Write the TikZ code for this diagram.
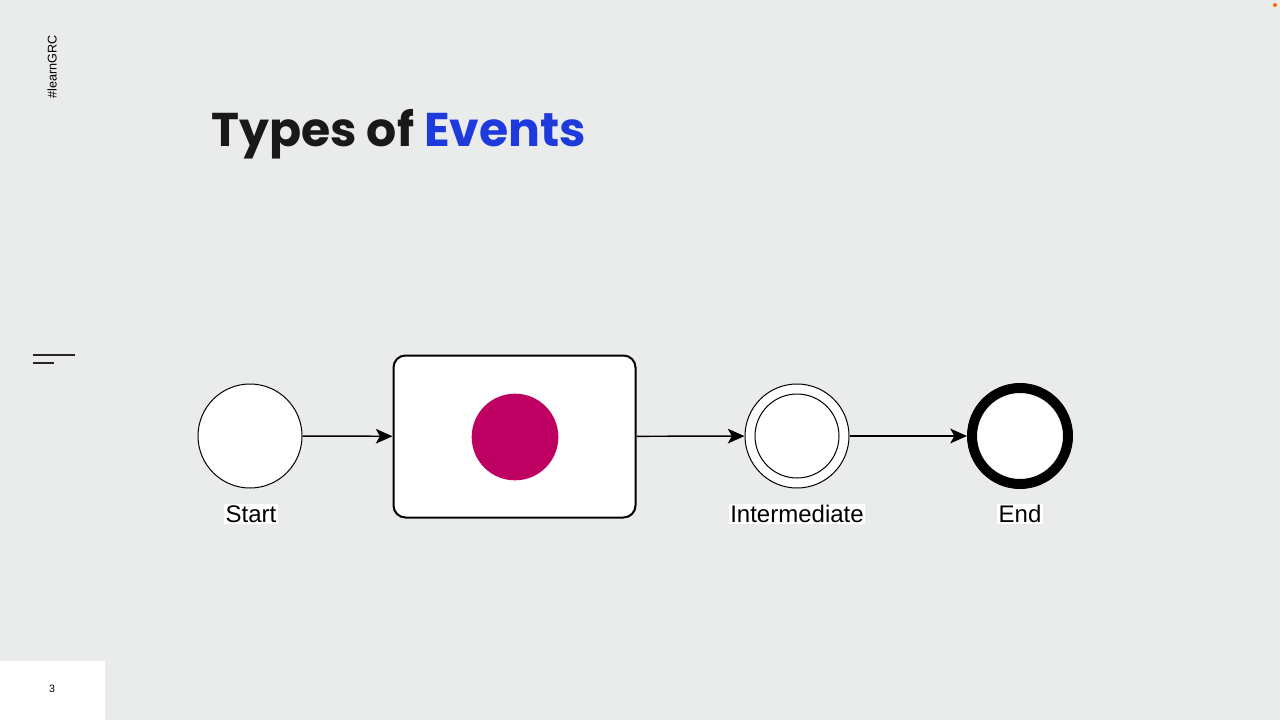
\documentclass[tikz,border=0pt]{standalone}
\usepackage{fontspec}
\setmainfont{Liberation Sans}
\newfontfamily\titlefont{Poppins}
\usetikzlibrary{arrows.meta}
\definecolor{bg}{RGB}{233,236,235}
\definecolor{magentaev}{RGB}{190,0,98}
\definecolor{titleblue}{RGB}{30,58,220}
\definecolor{titleblack}{RGB}{25,25,25}
\tikzset{
  evcircle/.style={circle,draw=black,fill=white,line width=0.75pt,minimum size=78pt,inner sep=0pt},
  flow/.style={-{Stealth[length=12.5pt,width=11pt,inset=3pt]},line width=1.1pt,black},
  lbl/.style={fill=white,inner sep=1pt,font=\fontsize{18}{20}\selectfont},
}
\begin{document}
\begin{tikzpicture}[x=0.75pt,y=-0.75pt]
\fill[bg] (0,0) rectangle (1280,720);
\useasboundingbox (0,0) rectangle (1280,720);
% side tag
\node[rotate=90,font=\fontsize{9.5}{10}\selectfont,inner sep=0pt] (tag) at (52,67) {\#learnGRC};
% left lines
\coordinate (l1a) at (33,355); \coordinate (l1b) at (75,355);
\coordinate (l2a) at (33,363); \coordinate (l2b) at (54,363);
\draw[line width=1.2pt,black!85] (l1a) -- (l1b);
\draw[line width=1.2pt,black!85] (l2a) -- (l2b);
% page number box
\fill[white] (0,661) rectangle (105,720);
\node[font=\fontsize{8}{9}\selectfont] (pg) at (52,689) {3};
% orange dot
\fill[orange!80!red] (1275,5) circle (2);
% title
\node[anchor=base west,inner sep=0pt,font=\titlefont\bfseries\fontsize{35.5}{40}\selectfont] (title) at (211,147) {\textcolor{titleblack}{Types of} \textcolor{titleblue}{Events}};
% nodes
\node[evcircle] (start) at (250,436) {};
\node[draw=black,fill=white,line width=1.5pt,rounded corners=9pt,minimum width=181.5pt,minimum height=121.5pt,inner sep=0pt] (task) at (514.5,436.5) {};
\node[circle,fill=magentaev,minimum size=65pt,inner sep=0pt] (dot) at (515,437) {};
\node[evcircle] (inter) at (797,436) {};
\node[circle,draw=black,fill=white,line width=0.75pt,minimum size=63pt,inner sep=0pt] (interin) at (797,436) {};
\node[circle,draw=black,fill=white,line width=7.5pt,minimum size=72pt,inner sep=0pt] (end) at (1020,436) {};
% connectors
\draw[flow] (start) -- (task);
\draw[flow] (task) -- (inter);
\draw[flow] (inter) -- (end);
% labels
\node[lbl] (lstart) at (251,514) {Start};
\node[lbl] (linter) at (797,514) {Intermediate};
\node[lbl] (lend) at (1020,514) {End};
\end{tikzpicture}
\end{document}
